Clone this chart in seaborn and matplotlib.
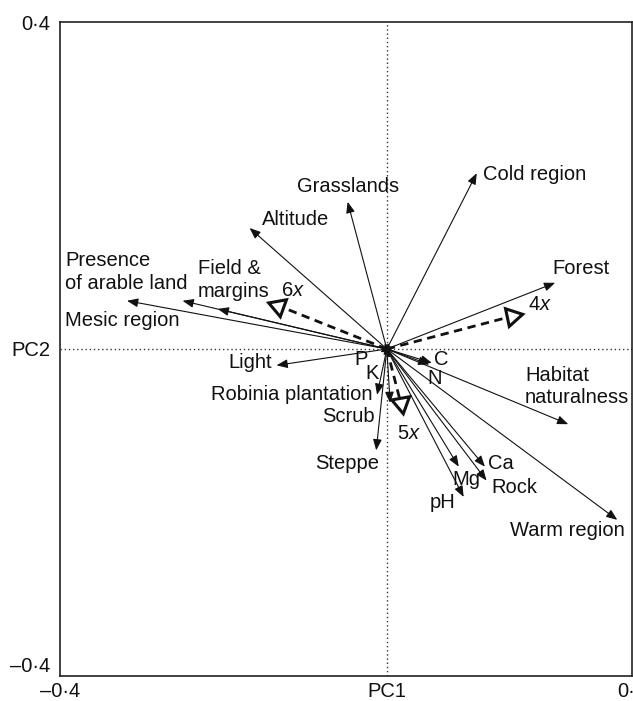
"""
PCA biplot of habitat variables (PC1 vs PC2) with group centroids.
"""

import matplotlib
matplotlib.use("Agg")
import matplotlib.pyplot as plt
import pandas as pd
import seaborn as sns

# variable loadings (arrow tips)
variables = ['Cold region', 'Grasslands', 'Altitude',
             'Presence of arable land', 'Field & margins', 'Mesic region',
             'Forest', 'Light', 'P', 'K', 'C', 'N', 'Habitat naturalness',
             'Robinia plantation', 'Scrub', 'Steppe', 'Ca', 'Rock', 'Mg',
             'pH', 'Warm region']
pc1 = [0.110, -0.048, -0.168, -0.318, -0.250, -0.207, 0.206, -0.135,
       -0.008, -0.004, 0.055, 0.052, 0.222, -0.012, 0.004, -0.013, 0.120,
       0.122, 0.088, 0.094, 0.282]
pc2 = [0.215, 0.180, 0.148, 0.059, 0.059, 0.049, 0.081, -0.020,
       -0.004, -0.008, -0.017, -0.019, -0.092, -0.056, -0.066, -0.124,
       -0.144, -0.161, -0.144, -0.181, -0.209]

# group centroids
groups = ['4', '5', '6']
grp_pc1 = [0.153, 0.017, -0.133]
grp_pc2 = [0.040, -0.066, 0.053]

# label placement: text, x, y, horizontal alignment
label_pos = [
    ('Cold region', 0.1175, 0.214, 'left'),
    ('Grasslands', -0.048, 0.199, 'center'),
    ('Altitude', -0.153, 0.158, 'left'),
    ('Presence\nof arable land', -0.394, 0.094, 'left'),
    ('Field &\nmargins', -0.231, 0.084, 'left'),
    ('Mesic region', -0.394, 0.035, 'left'),
    ('Forest', 0.202, 0.099, 'left'),
    ('Light', -0.141, -0.017, 'right'),
    ('P', -0.031, -0.013, 'center'),
    ('K', -0.018, -0.030, 'center'),
    ('C', 0.066, -0.013, 'center'),
    ('N', 0.058, -0.036, 'center'),
    ('Habitat\nnaturalness', 0.169, -0.046, 'left'),
    ('Robinia plantation', -0.017, -0.056, 'right'),
    ('Scrub', -0.015, -0.083, 'right'),
    ('Steppe', -0.048, -0.140, 'center'),
    ('Ca', 0.124, -0.140, 'left'),
    ('Mg', 0.080, -0.160, 'left'),
    ('Rock', 0.128, -0.170, 'left'),
    ('pH', 0.053, -0.188, 'left'),
    ('Warm region', 0.291, -0.222, 'right'),
]
grp_label_pos = [(0.173, 0.054), (0.012, -0.103), (-0.129, 0.072)]
grp_marker_angle = [162, 190, 190]

sns.set_style('white')
plt.rcParams['font.family'] = ['Liberation Sans', 'DejaVu Sans']
plt.rcParams['mathtext.fontset'] = 'custom'
plt.rcParams['mathtext.rm'] = 'Liberation Sans'
plt.rcParams['mathtext.it'] = 'Liberation Sans:italic'

fig = plt.figure(figsize=(6.33, 7.01), dpi=100)
ax = fig.add_axes([0.0948, 0.0357, 0.9036, 0.9329])

ax.axhline(0, color='#333333', lw=1, ls=(0, (1, 2)), zorder=1)
ax.axvline(0, color='#333333', lw=1, ls=(0, (1, 2)), zorder=1)

loadings = pd.DataFrame({'variable': variables, 'PC1': pc1, 'PC2': pc2})
for _, row in loadings.iterrows():
    ax.annotate('', xy=(row['PC1'], row['PC2']), xytext=(0, 0),
                arrowprops=dict(arrowstyle='-|>,head_length=0.55,'
                                'head_width=0.22',
                                color='#111111', lw=0.8,
                                mutation_scale=12, shrinkA=0, shrinkB=0))

for text, x, y, ha in label_pos:
    ax.text(x, y, text, ha=ha, va='center', fontsize=14.5,
            linespacing=1.25, color='#111111')

# dashed lines to group centroids
for gx, gy in zip(grp_pc1, grp_pc2):
    sns.lineplot(x=[0, gx], y=[0, gy], ax=ax, color='#111111',
                 lw=2, ls=(0, (3, 2)), sort=False, zorder=2)

cent = pd.DataFrame({'group': groups, 'PC1': grp_pc1, 'PC2': grp_pc2})
for i, row in cent.iterrows():
    ax.plot(row['PC1'], row['PC2'], marker=(3, 0, grp_marker_angle[i]),
            markersize=15, markerfacecolor='white',
            markeredgecolor='#111111', markeredgewidth=2.2, zorder=3)
    lx, ly = grp_label_pos[i]
    ax.text(lx, ly, row['group'] + '$x$', ha='left', va='center',
            fontsize=14.5, color='#111111')

ax.set_xlim(-0.4, 0.3)
ax.set_ylim(-0.4, 0.4)
ax.set_xticks([-0.4, 0, 0.3])
ax.set_xticklabels(['\u20130\u00b74', 'PC1', '0\u00b73'])
ax.set_yticks([-0.4, 0, 0.4])
ax.set_yticklabels(['\u20130\u00b74', 'PC2', '0\u00b74'])
ax.tick_params(axis='both', length=0, labelsize=14.5,
               labelcolor='#111111')
ax.tick_params(axis='x', pad=4)
ax.tick_params(axis='y', pad=7)
# bottom y label sits just above the corner, as in the original
ax.get_yticklabels()[0].set_va('bottom')
ax.set_xlabel('')
ax.set_ylabel('')
for sp in ax.spines.values():
    sp.set_visible(True)
    sp.set_color('#222222')
    sp.set_linewidth(1.2)

fig.savefig('out.png', dpi=100)
